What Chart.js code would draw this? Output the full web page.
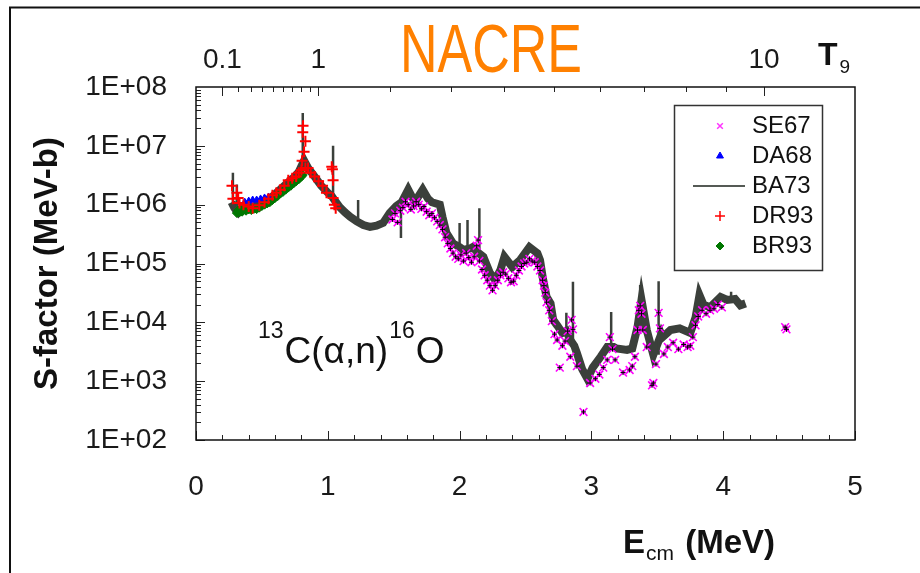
<!DOCTYPE html>
<html>
<head>
<meta charset="utf-8">
<title>13C(a,n)16O S-factor - NACRE</title>
<script src="https://cdn.jsdelivr.net/npm/chart.js@4.4.1/dist/chart.umd.min.js"></script>
<style>
  html, body { margin: 0; padding: 0; background: #fff; }
  canvas { display: block; }
</style>
</head>
<body>
<canvas id="sfactor" width="920" height="573"></canvas>
<script>
// data, [E_cm (MeV), S (MeV-b)]
const se67 = [
  [1.49, 5.6e5], [1.51, 7.1e5], [1.53, 5.0e5], [1.55, 7.9e5], [1.57, 8.9e5], [1.59, 1.12e6],
  [1.61, 1.0e6], [1.63, 8.3e5], [1.65, 9.5e5], [1.67, 1.12e6], [1.69, 1.0e6], [1.71, 8.5e5],
  [1.73, 9.3e5], [1.75, 7.6e5], [1.77, 6.6e5], [1.79, 7.1e5], [1.81, 6.0e5], [1.83, 5.2e5],
  [1.85, 4.5e5], [1.87, 3.8e5], [1.89, 2.8e5], [1.91, 2.2e5], [1.93, 1.8e5], [1.95, 1.5e5],
  [1.97, 1.3e5], [1.99, 1.2e5], [2.01, 1.4e5], [2.03, 1.1e5], [2.05, 1.5e5], [2.07, 1.26e5],
  [2.09, 1.05e5], [2.11, 1.3e5], [2.13, 2.0e5], [2.14, 2.5e5], [2.15, 1.1e5], [2.17, 7.9e4],
  [2.19, 6.3e4], [2.21, 5.2e4], [2.23, 4.2e4], [2.25, 3.5e4], [2.27, 4.2e4], [2.29, 5.2e4],
  [2.31, 6.3e4], [2.33, 7.1e4], [2.35, 6.6e4], [2.37, 5.6e4], [2.39, 4.8e4], [2.41, 5.0e4],
  [2.43, 6.3e4], [2.45, 7.6e4], [2.47, 8.9e4], [2.49, 1.0e5], [2.51, 1.05e5], [2.53, 1.2e5],
  [2.55, 1.1e5], [2.57, 1.05e5], [2.59, 8.9e4], [2.61, 7.6e4], [2.63, 5.2e4], [2.64, 4.2e4],
  [2.65, 3.2e4], [2.66, 2.2e4], [2.68, 1.6e4], [2.70, 1.05e4], [2.72, 6.3e3], [2.74, 5.0e3],
  [2.76, 1.7e3], [2.78, 4.0e3], [2.80, 4.8e3], [2.82, 7.1e3], [2.84, 2.6e3], [2.85, 1.1e4],
  [2.86, 7.6e3], [2.89, 1.8e3], [2.94, 3.0e2], [2.99, 9.3e2], [3.03, 1.1e3], [3.06, 1.3e3],
  [3.09, 1.7e3], [3.12, 2.3e3], [3.14, 5.6e3], [3.16, 3.5e3], [3.18, 2.3e3], [3.24, 1.4e3],
  [3.29, 1.55e3], [3.31, 1.8e3], [3.33, 2.6e3], [3.35, 7.4e3], [3.36, 1.6e4], [3.37, 1.9e4],
  [3.38, 1.4e4], [3.39, 7.4e3], [3.42, 3.8e3], [3.46, 8.5e2], [3.47, 9.3e2], [3.49, 1.95e3],
  [3.51, 1.45e4], [3.52, 7.9e3], [3.55, 2.9e3], [3.58, 3.8e3], [3.62, 4.5e3], [3.66, 3.5e3],
  [3.70, 4.2e3], [3.73, 3.8e3], [3.75, 4.0e3], [3.77, 5.6e3], [3.79, 8.9e3], [3.81, 1.26e4],
  [3.84, 1.6e4], [3.87, 1.4e4], [3.90, 1.6e4], [3.93, 1.7e4], [3.96, 2.0e4], [3.99, 1.8e4],
  [4.47, 8.3e3], [4.48, 7.6e3]
];

const da68 = [
  [0.37, 1.1e6], [0.40, 1.15e6], [0.43, 1.2e6], [0.46, 1.2e6], [0.49, 1.25e6], [0.52, 1.3e6], [0.55, 1.35e6]
];

// smooth part of the BA73 curve
const ba73 = [
  [0.27, 1.1e6], [0.29, 8.9e5], [0.30, 8.3e5], [0.32, 7.4e5], [0.33, 7.9e5], [0.36, 8.5e5],
  [0.40, 8.9e5], [0.45, 9.5e5], [0.50, 1.05e6], [0.55, 1.2e6], [0.60, 1.5e6], [0.65, 1.9e6],
  [0.70, 2.4e6], [0.75, 3.0e6], [0.78, 3.6e6], [0.80, 4.5e6], [0.82, 5.6e6], [0.85, 4.2e6],
  [0.90, 3.0e6], [0.95, 2.1e6], [1.00, 1.6e6], [1.03, 1.4e6], [1.05, 1.2e6], [1.09, 9.1e5],
  [1.13, 7.4e5], [1.17, 6.2e5], [1.22, 5.2e5], [1.27, 4.5e5], [1.32, 4.2e5], [1.37, 4.4e5],
  [1.42, 4.9e5], [1.47, 7.2e5], [1.52, 9.5e5], [1.56, 1.1e6], [1.61, 1.8e6], [1.66, 1.1e6],
  [1.72, 1.8e6], [1.76, 1.26e6], [1.79, 1.1e6], [1.85, 1.0e6], [1.87, 6.2e5], [1.90, 3.3e5],
  [1.95, 2.2e5], [2.00, 1.9e5], [2.03, 1.7e5], [2.08, 1.8e5], [2.10, 1.9e5], [2.13, 1.6e5],
  [2.18, 1.3e5], [2.23, 6.9e4], [2.27, 5.2e4], [2.31, 7.8e4], [2.34, 1.3e5], [2.40, 8.7e4],
  [2.46, 1.15e5], [2.53, 1.9e5], [2.59, 1.5e5], [2.61, 1.15e5], [2.63, 5.9e4], [2.66, 2.7e4],
  [2.69, 2.1e4], [2.71, 1.1e4], [2.74, 8.9e3], [2.78, 6.6e3], [2.81, 7.1e3], [2.84, 5.0e3],
  [2.87, 4.0e3], [2.89, 3.0e3], [2.93, 1.6e3], [2.97, 1.1e3], [3.01, 1.7e3], [3.07, 2.6e3],
  [3.12, 3.8e3], [3.17, 3.8e3], [3.19, 3.6e3], [3.27, 3.4e3], [3.31, 3.6e3], [3.35, 8.3e3],
  [3.38, 2.4e4], [3.42, 7.4e3], [3.47, 2.8e3], [3.53, 6.3e3], [3.54, 5.6e3], [3.60, 7.4e3],
  [3.67, 7.9e3], [3.75, 6.6e3], [3.79, 1.2e4], [3.82, 2.9e4], [3.85, 2.0e4], [3.90, 1.8e4],
  [3.98, 2.7e4], [4.03, 2.4e4], [4.09, 2.5e4], [4.13, 1.95e4], [4.17, 2.1e4]
];

// narrow BA73 resonance peaks: [E, base, tip]
const ba73Peaks = [
  [0.28, 9.0e5, 3.5e6], [0.31, 7.0e5, 2.2e6], [0.81, 4.5e6, 3.6e7], [1.04, 1.4e6, 1.0e7],
  [1.23, 5.2e5, 1.2e6], [1.555, 1.07e6, 2.7e5], [2.00, 1.9e5, 4.9e5], [2.06, 1.8e5, 5.5e5],
  [2.15, 1.6e5, 8.7e5], [2.81, 6.6e3, 1.45e4], [2.86, 4.0e3, 4.9e4], [3.15, 3.8e3, 1.5e4],
  [3.37, 8.3e3, 4.3e4], [3.51, 2.8e3, 5.0e4], [3.82, 1.2e4, 2.9e4], [4.06, 2.4e4, 3.3e4]
];

const dr93 = [
  [0.273, 2.1e6], [0.28, 1.26e6], [0.31, 1.6e6], [0.32, 1.3e6], [0.33, 1.07e6], [0.36, 1.0e6],
  [0.40, 9.3e5], [0.43, 8.7e5], [0.48, 9.8e5], [0.52, 1.1e6], [0.55, 1.26e6], [0.58, 1.45e6],
  [0.61, 1.6e6], [0.64, 1.8e6], [0.67, 2.1e6], [0.70, 2.6e6], [0.73, 2.8e6], [0.76, 3.0e6],
  [0.78, 3.5e6], [0.80, 3.9e6], [0.805, 5.6e6], [0.81, 1.7e7], [0.812, 2.2e7], [0.82, 7.9e6],
  [0.83, 1.2e7], [0.83, 4.2e6], [0.85, 4.2e6], [0.87, 3.5e6], [0.90, 3.0e6], [0.93, 2.5e6],
  [0.96, 2.1e6], [0.99, 1.6e6], [1.03, 4.4e6], [1.035, 4.0e6], [1.04, 2.6e6], [1.04, 1.3e6],
  [1.05, 1.0e6], [1.06, 8.7e5]
];

const br93 = [
  [0.31, 7.2e5], [0.32, 8.0e5], [0.33, 7.4e5], [0.34, 8.3e5], [0.35, 7.6e5], [0.36, 8.1e5],
  [0.38, 7.9e5], [0.40, 8.3e5], [0.42, 8.1e5], [0.44, 8.5e5], [0.46, 8.4e5], [0.48, 8.9e5],
  [0.50, 9.5e5], [0.52, 1.0e6], [0.54, 1.05e6], [0.56, 1.1e6], [0.58, 1.2e6], [0.60, 1.3e6],
  [0.62, 1.4e6], [0.64, 1.55e6], [0.66, 1.65e6], [0.68, 1.8e6], [0.70, 1.95e6], [0.72, 2.1e6],
  [0.74, 2.3e6], [0.76, 2.5e6], [0.78, 2.7e6], [0.80, 3.0e6], [0.81, 3.2e6]
];

const yDecades = [1e2, 1e3, 1e4, 1e5, 1e6, 1e7, 1e8];
const t9Labels = [0.1, 1, 10];
const t9Minor = [0.1, 0.2, 0.3, 0.4, 0.5, 0.6, 0.7, 0.8, 0.9, 1, 2, 3, 4, 5, 6, 7, 8, 9, 10];

const FONT = '"Liberation Sans", Arial, Helvetica, sans-serif';

// Gamow peak energy for 13C + alpha (MeV) at temperature T9
function eFromT9(t) {
    return 0.9286 * Math.pow(t, 2 / 3);
}

const toPts = arr => arr.map(p => ({x: p[0], y: p[1]}));

function peakPts(list) {
    const out = [];
    list.forEach(p => {
        out.push({x: p[0], y: p[1]});
        out.push({x: p[0], y: p[2]});
        out.push({x: p[0], y: null});
    });
    return out;
}

const legendItems = [
    {text: 'SE67', style: 'crossRot', color: '#ff33ff', radius: 4, width: 1.5},
    {text: 'DA68', style: 'triangle', color: '#0000ff', radius: 4, fill: true},
    {text: 'BA73', style: 'line', color: '#555a55'},
    {text: 'DR93', style: 'cross', color: '#ff0000', radius: 5, width: 1.5},
    {text: 'BR93', style: 'rectRot', color: '#007700', radius: 4, fill: true}
];

function drawMarker(ctx, item, x, y) {
    ctx.save();
    ctx.strokeStyle = item.color;
    ctx.fillStyle = item.color;
    ctx.lineWidth = item.width || 1;
    if (item.style === 'line') {
        ctx.lineWidth = 2;
        ctx.beginPath();
        ctx.moveTo(x - 27, y);
        ctx.lineTo(x + 25, y);
        ctx.stroke();
    } else if (Chart.helpers && Chart.helpers.drawPoint) {
        Chart.helpers.drawPoint(ctx, {pointStyle: item.style, radius: item.radius, borderWidth: item.width || 1, rotation: 0}, x, y);
    }
    ctx.restore();
}

function sup(ctx, text, x, y, size, bold) {
    ctx.font = (bold ? 'bold ' : '') + size + 'px ' + FONT;
    ctx.fillText(text, x, y);
    return x + ctx.measureText(text).width;
}

const decor = {
    id: 'decor',
    beforeDraw(chart) {
        const ctx = chart.ctx;
        ctx.save();
        ctx.fillStyle = '#fff';
        ctx.fillRect(0, 0, chart.width, chart.height);
        ctx.strokeStyle = '#111';
        ctx.lineWidth = 2;
        ctx.beginPath();
        ctx.moveTo(10, chart.height);
        ctx.lineTo(10, 7.5);
        ctx.lineTo(chart.width, 7.5);
        ctx.stroke();
        ctx.restore();
    },
    afterDraw(chart) {
        const {ctx, chartArea: a, scales} = chart;
        ctx.save();

        // inward tick marks
        ctx.strokeStyle = '#222';
        ctx.lineWidth = 1;
        ctx.beginPath();
        for (let i = 0; i <= 25; i++) {
            const px = Math.round(scales.x.getPixelForValue(i / 5)) + 0.5;
            const len = i % 5 === 0 ? 9 : 5;
            ctx.moveTo(px, a.bottom);
            ctx.lineTo(px, a.bottom - len);
        }
        for (let d = 2; d < 8; d++) {
            for (let m = 1; m <= 9; m++) {
                const py = Math.round(scales.y.getPixelForValue(m * Math.pow(10, d))) + 0.5;
                const len = m === 1 ? 9 : 5;
                ctx.moveTo(a.left, py);
                ctx.lineTo(a.left + len, py);
            }
        }
        t9Minor.forEach(t => {
            const px = Math.round(scales.x2.getPixelForValue(eFromT9(t))) + 0.5;
            const len = t9Labels.includes(t) ? 9 : 5;
            ctx.moveTo(px, a.top);
            ctx.lineTo(px, a.top + len);
        });
        ctx.stroke();

        // plot frame
        ctx.strokeStyle = '#111';
        ctx.lineWidth = 1.5;
        ctx.strokeRect(a.left, a.top, a.right - a.left, a.bottom - a.top);

        // legend box
        ctx.fillStyle = '#fff';
        ctx.fillRect(674, 105, 148, 165);
        ctx.strokeStyle = '#333';
        ctx.lineWidth = 1.5;
        ctx.strokeRect(674.5, 105.5, 148, 165);
        ctx.textBaseline = 'middle';
        ctx.textAlign = 'left';
        legendItems.forEach((item, i) => {
            const y = 126 + i * 30;
            drawMarker(ctx, item, 720, y);
            ctx.fillStyle = '#111';
            ctx.font = '24px ' + FONT;
            ctx.fillText(item.text, 752, y);
        });

        ctx.textBaseline = 'alphabetic';
        ctx.fillStyle = '#111';

        // reaction label
        let x = sup(ctx, '13', 258, 338, 23);
        x = sup(ctx, 'C(\u03b1,n)', x + 1, 363, 37);
        x = sup(ctx, '16', x + 1, 338, 23);
        sup(ctx, 'O', x + 1, 363, 37);

        // x axis title
        x = sup(ctx, 'E', 623, 553, 33, true);
        x = sup(ctx, 'cm', x + 1, 560, 21);
        sup(ctx, ' (MeV)', x + 2, 553, 33, true);

        // T9 on the top axis
        x = sup(ctx, 'T', 818, 65, 32, true);
        sup(ctx, '9', x + 2, 73, 19);

        // NACRE banner
        ctx.font = '68px ' + FONT;
        const w = ctx.measureText('NACRE').width;
        ctx.translate(400, 72);
        ctx.scale(182 / w, 1);
        ctx.fillStyle = '#ff8000';
        ctx.fillText('NACRE', 0, 0);

        ctx.restore();
    }
};

const tickFont = {family: FONT, size: 28};

new Chart(document.getElementById('sfactor'), {
    type: 'scatter',
    data: {
        datasets: [
            {label: 'SE67 centre', data: toPts(se67), pointStyle: 'cross', pointRadius: 2.5,
             pointBorderColor: '#000', pointBorderWidth: 1, order: 0},
            {label: 'SE67', data: toPts(se67), pointStyle: 'crossRot', pointRadius: 5.5,
             pointBorderColor: '#ff00ff', pointBorderWidth: 1.6, order: 1},
            {label: 'DR93', data: toPts(dr93), pointStyle: 'cross', pointRadius: 5.5,
             pointBorderColor: '#ff0000', pointBorderWidth: 2, order: 1},
            {label: 'DA68', data: toPts(da68), pointStyle: 'triangle', pointRadius: 4,
             pointBackgroundColor: '#0000ff', pointBorderColor: '#0000ff', order: 2},
            {label: 'BR93', data: toPts(br93), pointStyle: 'rectRot', pointRadius: 4.5,
             pointBackgroundColor: '#007700', pointBorderColor: '#007700', order: 3},
            {label: 'BA73 peaks', data: peakPts(ba73Peaks), showLine: true, spanGaps: false,
             borderColor: '#3b403b', borderWidth: 2.5, pointRadius: 0, order: 8},
            {label: 'BA73', data: toPts(ba73), showLine: true, borderColor: '#3b403b',
             borderWidth: 8, pointRadius: 0, order: 9}
        ]
    },
    options: {
        responsive: false,
        animation: false,
        events: [],
        layout: {padding: {left: 0, right: 65, top: 0, bottom: 0}},
        plugins: {legend: {display: false}, tooltip: {enabled: false}},
        scales: {
            x: {
                type: 'linear', position: 'bottom', min: 0, max: 5,
                afterFit: s => { s.height = 133; },
                grid: {display: false, drawTicks: false},
                border: {display: false},
                ticks: {stepSize: 1, font: tickFont, color: '#1a1a1a', padding: 30, maxRotation: 0}
            },
            x2: {
                type: 'linear', position: 'top', min: 0, max: 5,
                afterFit: s => { s.height = 87; },
                afterBuildTicks: s => { s.ticks = t9Labels.map(t => ({value: eFromT9(t)})); },
                grid: {display: false, drawTicks: false},
                border: {display: false},
                ticks: {font: tickFont, color: '#1a1a1a', padding: 10, autoSkip: false, maxRotation: 0,
                        callback: (v, i) => String(t9Labels[i])}
            },
            y: {
                type: 'logarithmic', position: 'left', min: 1e2, max: 1e8,
                afterFit: s => { s.width = 196; },
                afterBuildTicks: s => { s.ticks = yDecades.map(v => ({value: v})); },
                grid: {display: false, drawTicks: false},
                border: {display: false},
                ticks: {font: tickFont, color: '#1a1a1a', padding: 29, autoSkip: false,
                        callback: v => '1E+' + String(Math.round(Math.log10(v))).padStart(2, '0')},
                title: {display: true, text: 'S-factor (MeV-b)', color: '#111',
                        font: {family: FONT, size: 33, weight: 'bold'}, padding: {top: 28, bottom: 0}}
            }
        }
    },
    plugins: [decor]
});
</script>
</body>
</html>
